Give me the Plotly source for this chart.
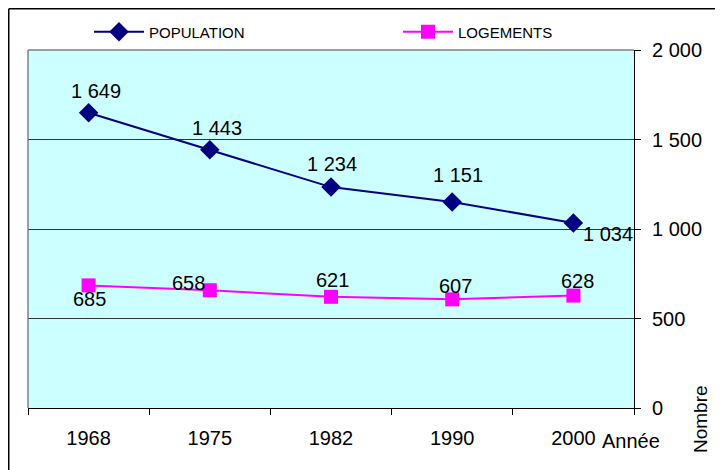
import plotly.graph_objects as go

years = ["1968", "1975", "1982", "1990", "2000"]
population = [1649, 1443, 1234, 1151, 1034]
logements = [685, 658, 621, 607, 628]
y_ticks = [0, 500, 1000, 1500, 2000]

def fmt(v):
    return f"{v:,}".replace(",", " ")

# label offsets in pixels (style only, not data)
pop_dx = [7, 7, 1, 6, 35]
pop_dy = [-23, -23, -24, -28, 10]
log_dx = [1, -21, 1, 3, 4]
log_dy = [13, -8, -18, -14, -16]

FONT = "Liberation Sans, Arial, sans-serif"

# the page body adds an 8px offset; figure is sized to fit the window
W, H = 715, 462
L, R, T, B = 20, 89, 42, 62
PW, PH = W - L - R, H - T - B

fig = go.Figure()
fig.add_trace(go.Scatter(
    x=years, y=population, name="POPULATION", mode="lines+markers",
    line=dict(color="#000080", width=2),
    marker=dict(symbol="diamond", size=15, color="#000080"),
    cliponaxis=False, legend="legend",
))
fig.add_trace(go.Scatter(
    x=years, y=logements, name="LOGEMENTS", mode="lines+markers",
    line=dict(color="#FF00FF", width=2),
    marker=dict(symbol="square", size=14, color="#FF00FF"),
    cliponaxis=False, legend="legend2",
))

annotations = []
for series, dxs, dys in ((population, pop_dx, pop_dy), (logements, log_dx, log_dy)):
    for i, (v, dx, dy) in enumerate(zip(series, dxs, dys)):
        # category axis: annotation x is the category's serial number
        annotations.append(dict(
            x=i, y=v, xref="x", yref="y", text=fmt(v), showarrow=False,
            xanchor="center", yanchor="middle", xshift=dx, yshift=-(dy + 1),
            font=dict(size=20, color="black", family=FONT),
        ))

annotations += [
    dict(text="Année", xref="paper", yref="paper", x=(631 - 28) / PW, y=-(441 - 408) / PH,
         xanchor="center", yanchor="middle", showarrow=False, font=dict(size=20)),
    dict(text="Nombre", xref="paper", yref="paper", x=(700 - 28) / PW, y=-(419 - 408) / PH,
         xanchor="center", yanchor="middle", showarrow=False, textangle=-90,
         font=dict(size=19)),
]

leg_common = dict(orientation="h", y=1 + 18 / PH, yanchor="middle", itemwidth=50,
                  font=dict(size=15), bgcolor="rgba(0,0,0,0)", xanchor="left")

fig.update_layout(
    width=W, height=H,
    margin=dict(l=L, r=R, t=T, b=B, autoexpand=False),
    paper_bgcolor="white", plot_bgcolor="#CCFFFF",
    font=dict(family=FONT, size=20, color="black"),
    separators=", ",
    showlegend=True,
    legend=dict(x=(89 - 28) / PW, **leg_common),
    legend2=dict(x=(398 - 28) / PW, **leg_common),
    xaxis=dict(type="category", tickson="boundaries", ticks="outside", ticklen=6,
               tickcolor="black", showline=True, linecolor="black", linewidth=1,
               showgrid=False, zeroline=False, tickfont=dict(size=20), fixedrange=True,
               range=[-0.5, len(years) - 0.5], tickangle=0,
               automargin=False, ticklabelstandoff=12),
    yaxis=dict(side="right", range=[0, 2000], tickvals=y_ticks,
               ticktext=[fmt(v) for v in y_ticks],
               ticks="outside", ticklen=6, tickcolor="black",
               showline=True, linecolor="black", linewidth=1,
               showgrid=True, gridcolor="#333333", gridwidth=1, zeroline=False,
               tickfont=dict(size=20), automargin=False, ticklabelstandoff=7),
    shapes=[
        dict(type="line", xref="paper", yref="paper", x0=0, x1=0, y0=0, y1=1,
             line=dict(color="#808080", width=1.5)),
        dict(type="line", xref="paper", yref="paper", x0=0, x1=1, y0=1, y1=1,
             line=dict(color="#808080", width=1.5)),
        dict(type="line", xref="paper", yref="paper", x0=(0.75 - L) / PW, x1=(0.75 - L) / PW,
             y0=-B / PH, y1=1 + (T - 0.75) / PH, line=dict(color="black", width=1.5)),
        dict(type="line", xref="paper", yref="paper", x0=(0.75 - L) / PW, x1=(W - L) / PW,
             y0=1 + (T - 0.75) / PH, y1=1 + (T - 0.75) / PH, line=dict(color="black", width=1.5)),
    ],
    annotations=annotations,
)

fig.write_html("out.html")
